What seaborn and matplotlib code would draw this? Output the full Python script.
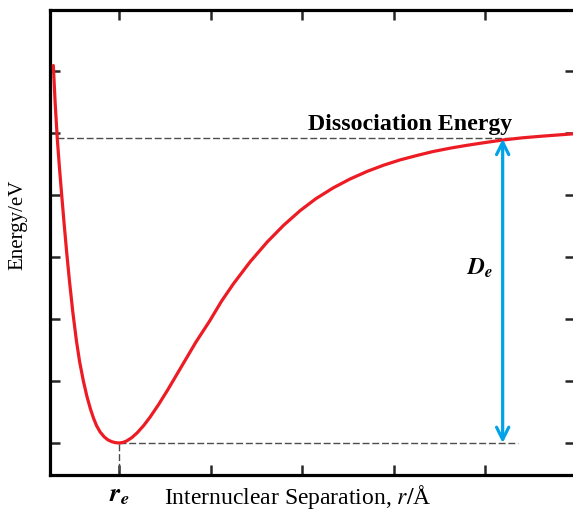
import matplotlib
matplotlib.use("Agg")
import matplotlib.pyplot as plt
import matplotlib.transforms as mtransforms
import seaborn as sns

# ====================================
# DATA
# ====================================
# internuclear separation r (x ticks at 1..5, r_e = 1)
r_vals = [0.283, 0.303, 0.326, 0.348, 0.373, 0.400, 0.429, 0.460, 0.495, 0.535,
          0.570, 0.611, 0.650, 0.688, 0.722, 0.755, 0.793, 0.838, 0.880, 0.920,
          0.960, 1.000, 1.040, 1.080, 1.140, 1.200, 1.270, 1.340, 1.430, 1.530,
          1.630, 1.740, 1.840, 1.990, 2.120, 2.250, 2.430, 2.620, 2.800, 2.980,
          3.150, 3.340, 3.520, 3.710, 3.890, 4.070, 4.250, 4.430, 4.620, 4.800,
          5.000, 5.190, 5.400, 5.600, 5.780, 5.960]
# potential energy (y ticks at 0..6)
energy_vals = [6.08, 5.48, 4.91, 4.47, 4.02, 3.55, 3.07, 2.60, 2.12, 1.65,
               1.31, 1.00, 0.75, 0.55, 0.40, 0.28, 0.18, 0.10, 0.05, 0.022,
               0.006, 0.000, 0.008, 0.030, 0.086, 0.166, 0.282, 0.418, 0.614, 0.850,
               1.100, 1.375, 1.625, 1.965, 2.285, 2.565, 2.915, 3.240, 3.510, 3.745,
               3.935, 4.110, 4.250, 4.375, 4.475, 4.560, 4.630, 4.695, 4.750, 4.795,
               4.840, 4.880, 4.915, 4.940, 4.960, 4.980]

x_ticks = [1, 2, 3, 4, 5]
y_ticks = [0, 1, 2, 3, 4, 5, 6]

r_e = 1.0
D_e = 4.91
r_left_cross = 0.326   # where the curve meets the dissociation level
r_arrow = 5.19
r_guide_end = 5.36

# ====================================
# STYLE
# ====================================
sns.set_style("ticks")
plt.rcParams["font.family"] = ["Liberation Serif", "DejaVu Serif"]
plt.rcParams["text.color"] = "black"
plt.rcParams["axes.labelcolor"] = "black"
plt.rcParams["mathtext.fontset"] = "custom"
plt.rcParams["mathtext.rm"] = "STIXGeneral"
plt.rcParams["mathtext.it"] = "STIXGeneral:italic"
plt.rcParams["mathtext.bf"] = "STIXGeneral:italic:bold"

fig = plt.figure(figsize=(5.73, 5.1), dpi=100)
ax = fig.add_axes([0.0873, 0.0673, 0.9162, 0.9118])

# ====================================
# PLOT
# ====================================
sns.lineplot(x=r_vals, y=energy_vals, color="#ED1C24", linewidth=2.3,
             sort=False, estimator=None, ax=ax, zorder=3)

dash = (0, (5, 2))
ax.hlines(D_e, r_left_cross, r_guide_end, colors="#4d4d4d", linestyles=dash, linewidth=1.0)
ax.hlines(0, r_e, r_guide_end, colors="#4d4d4d", linestyles=dash, linewidth=1.0)
ax.vlines(r_e, -0.6, 0, colors="#4d4d4d", linestyles=dash, linewidth=1.0)

ax.annotate("", xy=(r_arrow, 4.90), xytext=(r_arrow, 0),
            arrowprops=dict(arrowstyle="<->", color="#00A2E8", lw=2.3,
                            mutation_scale=22, shrinkA=0, shrinkB=0),
            zorder=4)

ax.text(4.94, 2.83, r"$\mathbf{D_e}$", fontsize=17, ha="center", va="center")
ax.text(5.30, 5.06, "Dissociation Energy", fontsize=17.2, fontweight="bold",
        ha="right", va="baseline")

trans = mtransforms.blended_transform_factory(ax.transData, ax.transAxes)
ax.text(r_e, -0.055, r"$\mathbf{r_e}$", fontsize=19, ha="center", va="baseline",
        transform=trans)

# ====================================
# AXES FORMAT
# ====================================
ax.set_xlim(0.247, 5.98)
ax.set_ylim(-0.51, 6.98)
ax.set_xticks(x_ticks)
ax.set_yticks(y_ticks)
ax.tick_params(direction="in", length=7, width=1.8, top=True, right=True,
               labelbottom=False, labelleft=False)
for spine in ax.spines.values():
    spine.set_visible(True)
    spine.set_linewidth(2.3)
    spine.set_color("black")

ax.set_xlabel(r"Internuclear Separation, $r/$Å", fontsize=17)
ax.xaxis.label.set_verticalalignment("baseline")
ax.xaxis.set_label_coords((298 - 50) / 525, -0.060)
ax.set_ylabel("Energy/eV", fontsize=15)
ax.yaxis.set_label_coords(-0.043, 0.54)

plt.savefig("out.png", dpi=100)
